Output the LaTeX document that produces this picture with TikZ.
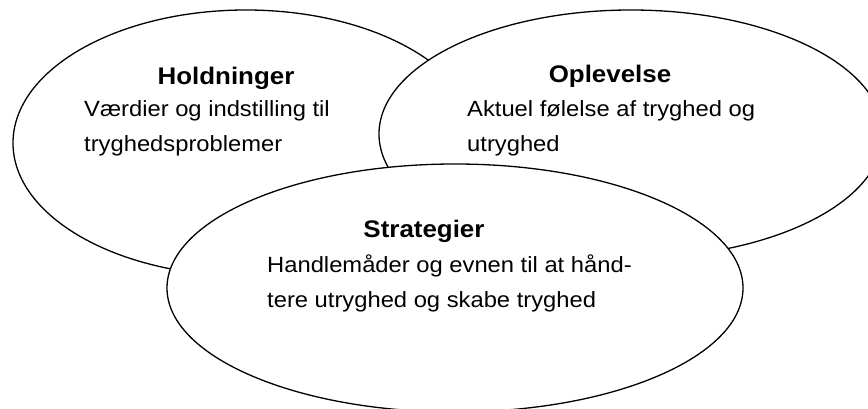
\documentclass[tikz,border=0pt]{standalone}
\usepackage{fontspec}
\setmainfont{Liberation Sans}[FakeStretch=1.08]
\usetikzlibrary{shapes.geometric}
\tikzset{
  ell/.style={ellipse, draw, line width=1.3pt, fill=white, inner sep=0pt},
  ttl/.style={font=\bfseries\fontsize{24}{28}\selectfont, inner sep=0pt, anchor=base},
  txt/.style={font=\fontsize{22}{26}\selectfont, inner sep=0pt, anchor=base west}
}
\begin{document}
\begin{tikzpicture}[x=1pt,y=-1pt]
\useasboundingbox (0,0) rectangle (868,409);
\clip (0,0) rectangle (868,409);
% ellipses
\node[ell, minimum width=466pt, minimum height=266pt] (hold) at (246,143) {};
\node[ell, minimum width=504pt, minimum height=248pt] (oplev) at (631,134) {};
\node[ell, minimum width=576pt, minimum height=248pt] (strat) at (455,288) {};
% Holdninger
\node[ttl] (holdT) at (226,85) {Holdninger};
\node[txt] (holdA) at (84,117) {Værdier og indstilling til};
\node[txt] (holdB) at (84,152) {tryghedsproblemer};
% Oplevelse
\node[ttl] (oplevT) at (610,83) {Oplevelse};
\node[txt] (oplevA) at (467,117) {Aktuel følelse af tryghed og};
\node[txt] (oplevB) at (467,152) {utryghed};
% Strategier
\node[ttl] (stratT) at (424,237) {Strategier};
\node[txt] (stratA) at (267,272) {Handlemåder og evnen til at hånd-};
\node[txt] (stratB) at (267,307) {tere utryghed og skabe tryghed};
\end{tikzpicture}
\end{document}
